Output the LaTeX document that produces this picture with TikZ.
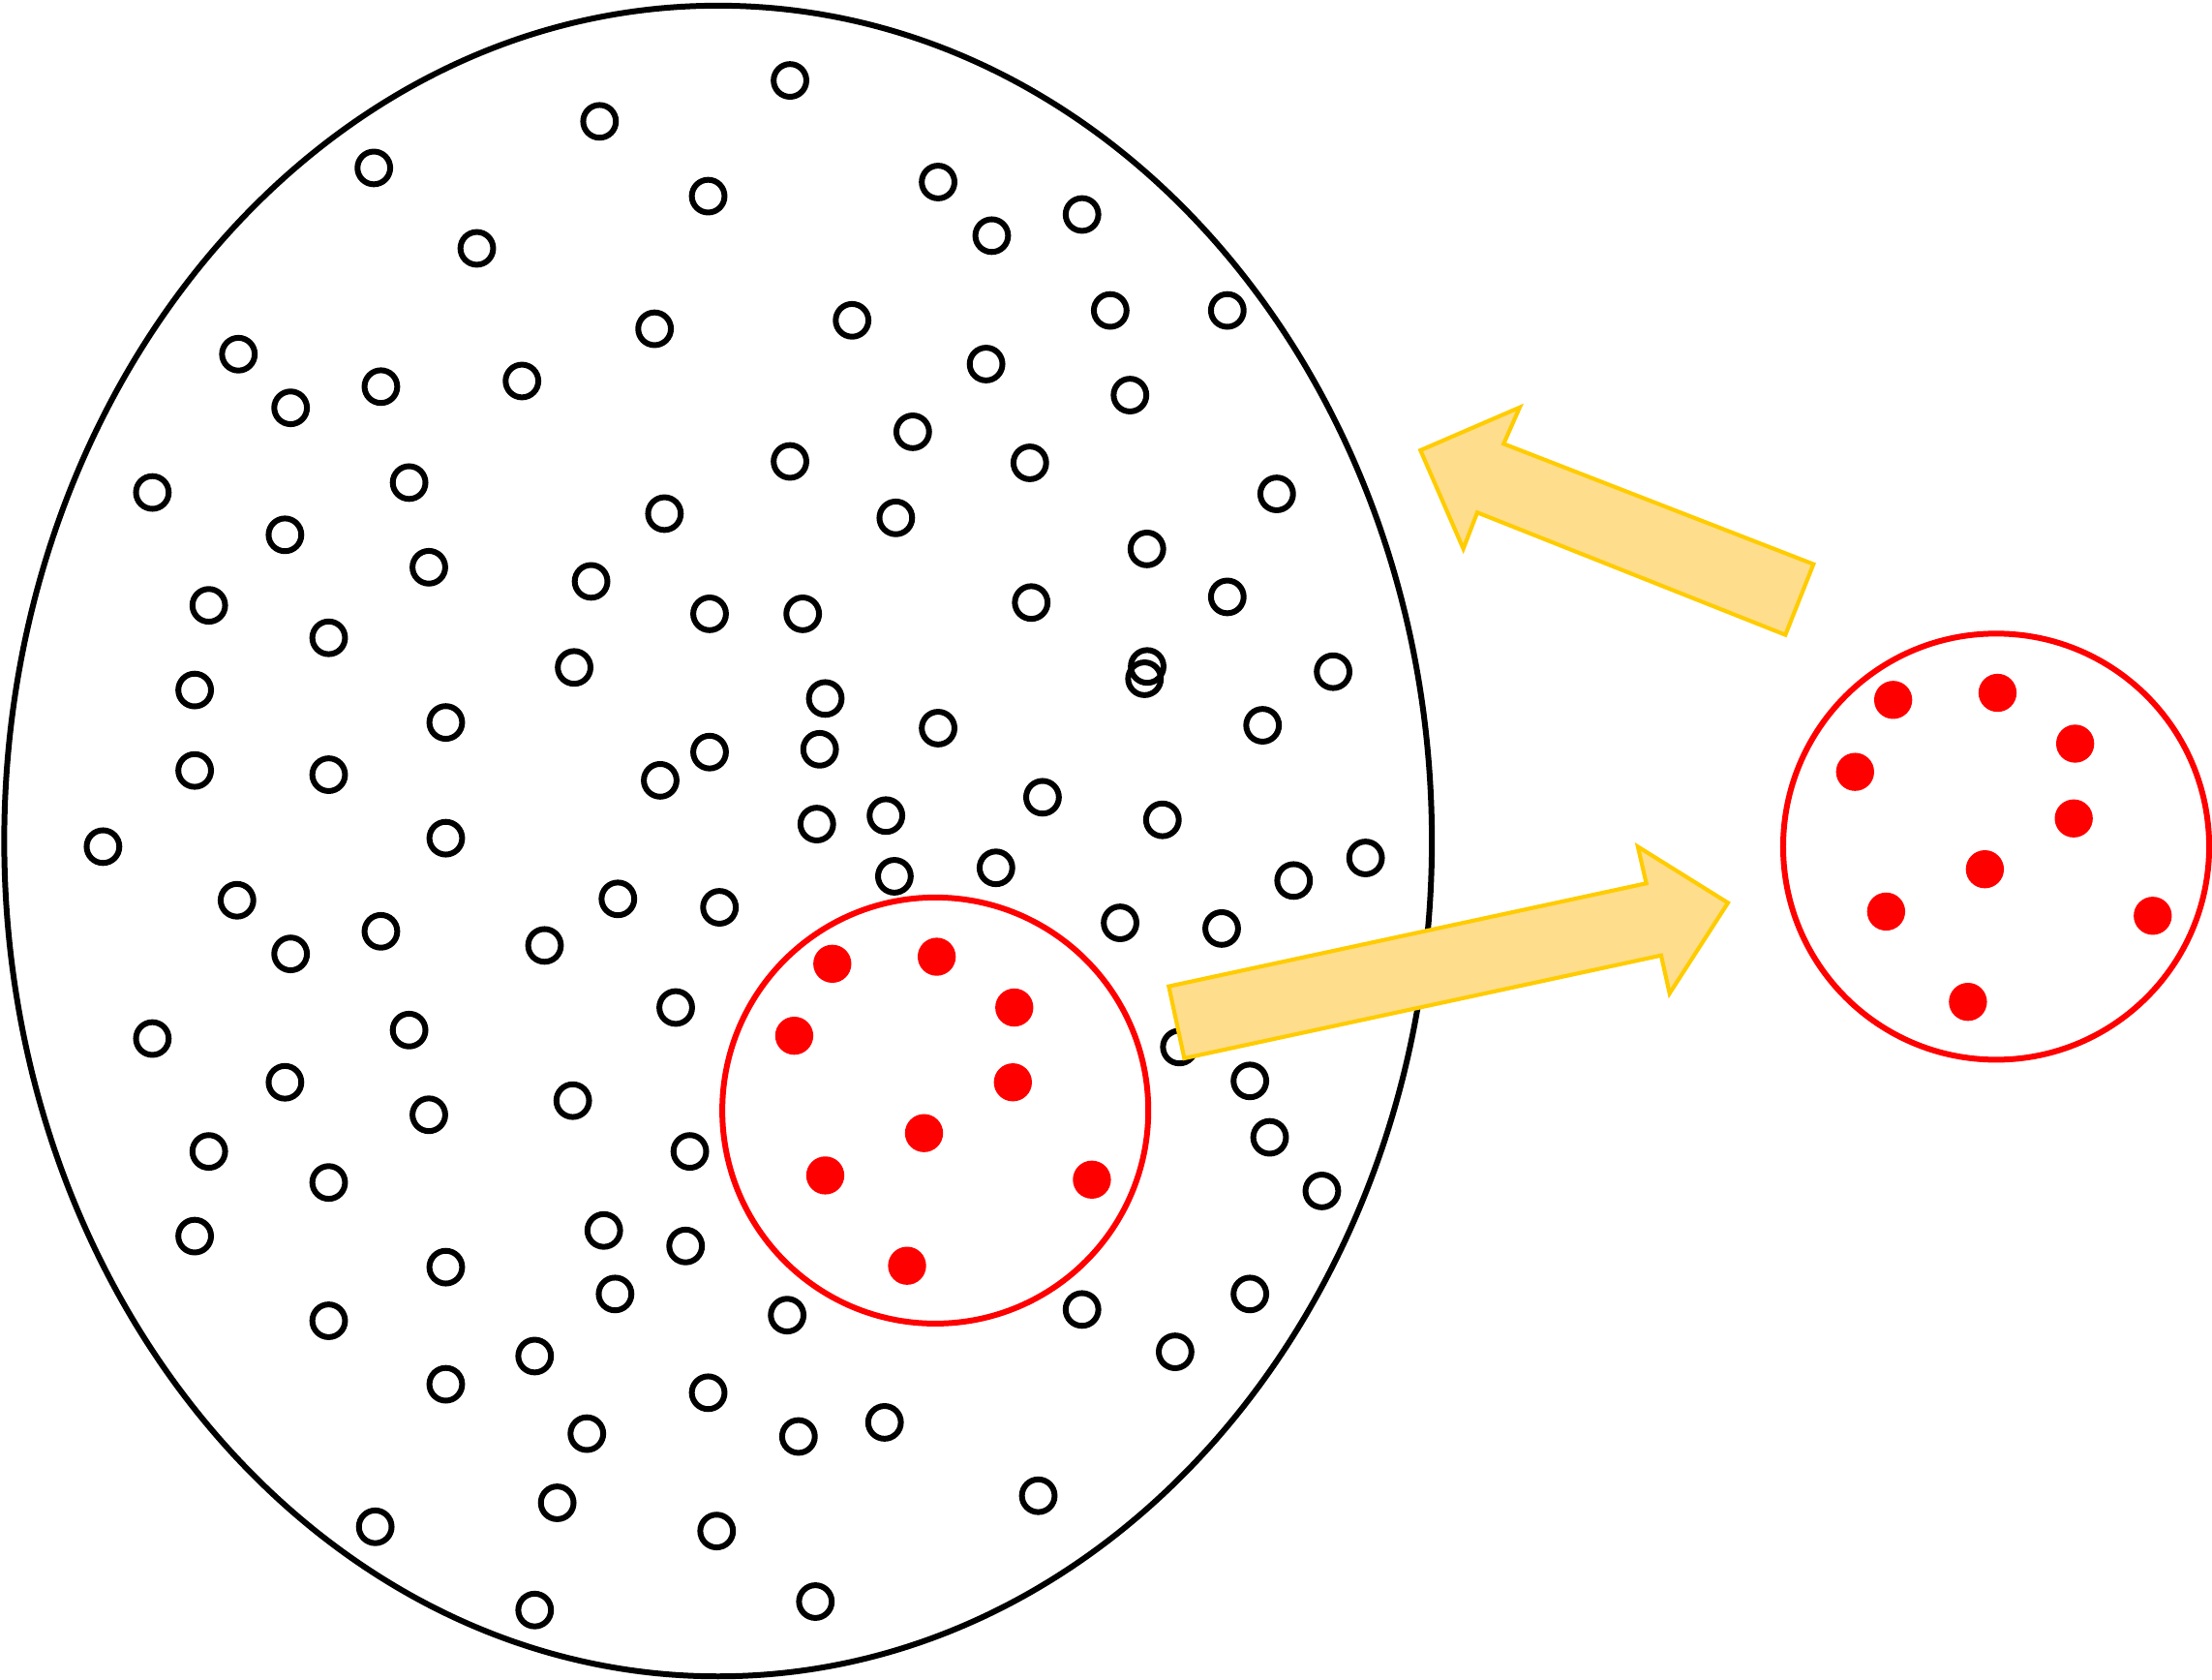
\documentclass[tikz,border=0pt]{standalone}
\definecolor{arrowfill}{RGB}{254,221,140}
\definecolor{arrowline}{RGB}{255,204,0}
\definecolor{pured}{RGB}{255,0,0}
\begin{document}
\begin{tikzpicture}[x=0.01cm,y=-0.01cm,
  hollow/.style={draw=black,line width=1.17pt},
  reddot/.style={fill=pured},
  ring/.style={draw=pured,line width=1.17pt},
  blockarrow/.style={fill=arrowfill,draw=arrowline,line width=0.8pt,line join=miter}]
\useasboundingbox (0,0) rectangle (1568,1190);
% big ellipse
\draw[line width=1.17pt] (509,596) ellipse [x radius=506, y radius=592];
% small hollow circles
\foreach \x/\y in {560/57,425/86,265/119,502/139,665/129,703/167,767/152,338/176,464/233,604/227,787/220,870/220,169/251,206/289,270/274,370/270,699/258,801/280,647/306,560/327,730/328,108/349,290/342,905/350,202/379,471/364,635/367,813/389,304/402,419/412,148/429,233/452,503/435,569/435,731/427,870/423,407/473,138/489,811.3/481,813.2/472.3,945/476,585/495,316/512,665/516,895/514,138/546,233/549,503/533,581/531,468/553,739/565,628/578,579/584,824/581,73/600,316/594,968/608,917/624,168/638,438/637,510/643,634/621,706/615,270/660,206/676,386/670,794/654,866/658,479/714,108/736,290/730,202/767,836/742,886/766,304/790,406/780,900/806,148/816,233/838,489/816,937/844,138/876,428/872,486/883,316/898,436/917,886/917,233/936,558/932,767/928,379/961,833/958,316/981,502/987,416/1016,566/1018,627/1008,395/1065,266/1082,508/1085,736/1060,379/1141,578/1135}
  \draw[hollow] (\x,\y) circle [radius=11.6];
% red circle inside ellipse
\draw[ring] (663,787) circle [radius=151];
\foreach \x/\y in {590/683,664/678,719/714,563/734,718/767,655/803,585/833,774/836,643/897}
  \fill[reddot] (\x,\y) circle [radius=13.5];
% red circle outside
\draw[ring] (1415,600) circle [radius=151];
\foreach \x/\y in {590/683,664/678,719/714,563/734,718/767,655/803,585/833,774/836,643/897}
  \fill[reddot] (\x+752,\y-187) circle [radius=13.5];
% upper arrow (pointing left-up)
\draw[blockarrow] (1285.5,399.8) -- (1265.6,449.9) -- (1047.2,363.2) -- (1037.3,388.9)
  -- (1006.9,319.1) -- (1077.3,288.7) -- (1065.9,314.5) -- cycle;
% lower arrow (pointing right)
\draw[blockarrow] (828.5,699) -- (839.5,750) -- (1177.5,677.1) -- (1183.5,704)
  -- (1224.9,639.8) -- (1161,600) -- (1167,626) -- cycle;
\end{tikzpicture}
\end{document}
